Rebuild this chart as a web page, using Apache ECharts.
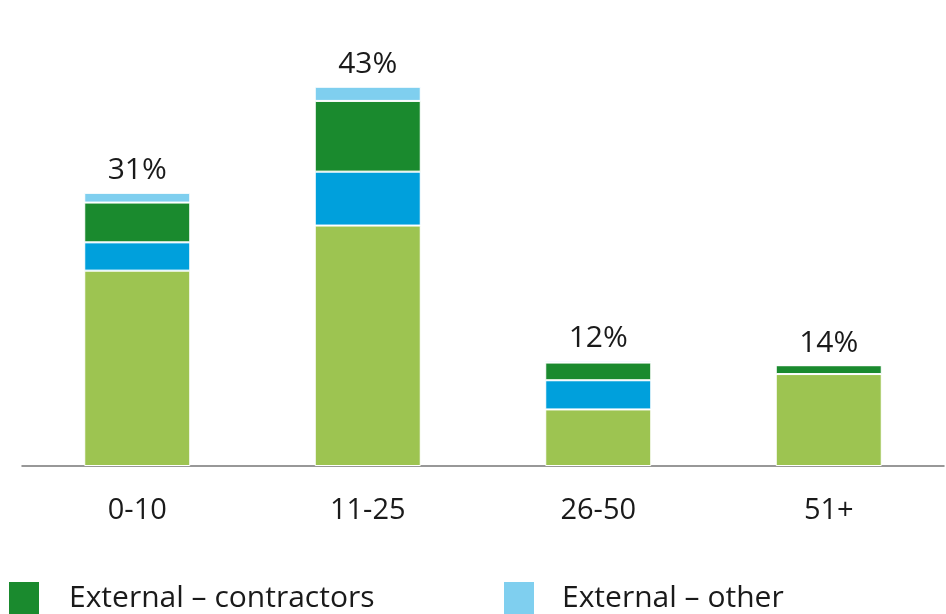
<!DOCTYPE html>
<html><head><meta charset="utf-8">
<script src="https://cdn.jsdelivr.net/npm/echarts@6/dist/echarts.min.js"></script>
<style>html,body{margin:0;padding:0;background:#fff}#c{width:946px;height:614px}</style>
</head><body><div id="c"></div>
<script>
const categories = ['0-10', '11-25', '26-50', '51+'];
const internalStaff = [22.1, 27.2, 6.4, 10.4];
const internalOther = [3.2, 6.1, 3.3, 0];
const externalContractors = [4.5, 8.0, 2.0, 1.0];
const externalOther = [1.1, 1.6, 0.2, 0];
const totalLabels = ['31%', '43%', '12%', '14%'];

const FONT = 'Open Sans';
const chart = echarts.init(document.getElementById('c'));
const seg = (name, data, color) => ({
  name, type: 'bar', stack: 't', data, barWidth: '46%',
  itemStyle: { color, borderColor: '#fff', borderWidth: 1 },
  emphasis: { disabled: true }
});
chart.setOption({
  animation: false,
  grid: { left: 22, right: 2, top: 24, bottom: 148, containLabel: false },
  xAxis: {
    type: 'category', data: categories,
    axisLine: { lineStyle: { color: '#777', width: 1.5 } },
    axisTick: { show: false },
    axisLabel: { color: '#1a1a1a', fontFamily: FONT, fontSize: 29, margin: 30 }
  },
  yAxis: { type: 'value', min: 0, max: 50, show: false, splitLine: { show: false } },
  legend: [
    { left: 7, top: 580, padding: 0, itemWidth: 32, itemHeight: 34, icon: 'rect',
      data: ['External – contractors'],
      textStyle: { fontFamily: FONT, fontSize: 30, color: '#1a1a1a', padding: [0, 0, 0, 24] } },
    { left: 502, top: 580, padding: 0, itemWidth: 32, itemHeight: 34, icon: 'rect',
      data: ['External – other'],
      textStyle: { fontFamily: FONT, fontSize: 30, color: '#1a1a1a', padding: [0, 0, 0, 22] } }
  ],
  series: [
    seg('Internal – staff', internalStaff, '#9dc451'),
    seg('Internal – other', internalOther, '#00a0dc'),
    seg('External – contractors', externalContractors, '#1a8a2e'),
    seg('External – other', externalOther, '#7fcfef'),
    {
      name: 'total', type: 'bar', stack: 't', barWidth: '46%',
      data: categories.map(() => 0),
      itemStyle: { color: 'transparent', borderWidth: 0 },
      label: {
        show: true, position: 'top', distance: 7,
        formatter: p => totalLabels[p.dataIndex],
        fontFamily: FONT, fontSize: 30, color: '#1a1a1a'
      },
      emphasis: { disabled: true }
    }
  ]
});
</script></body></html>
